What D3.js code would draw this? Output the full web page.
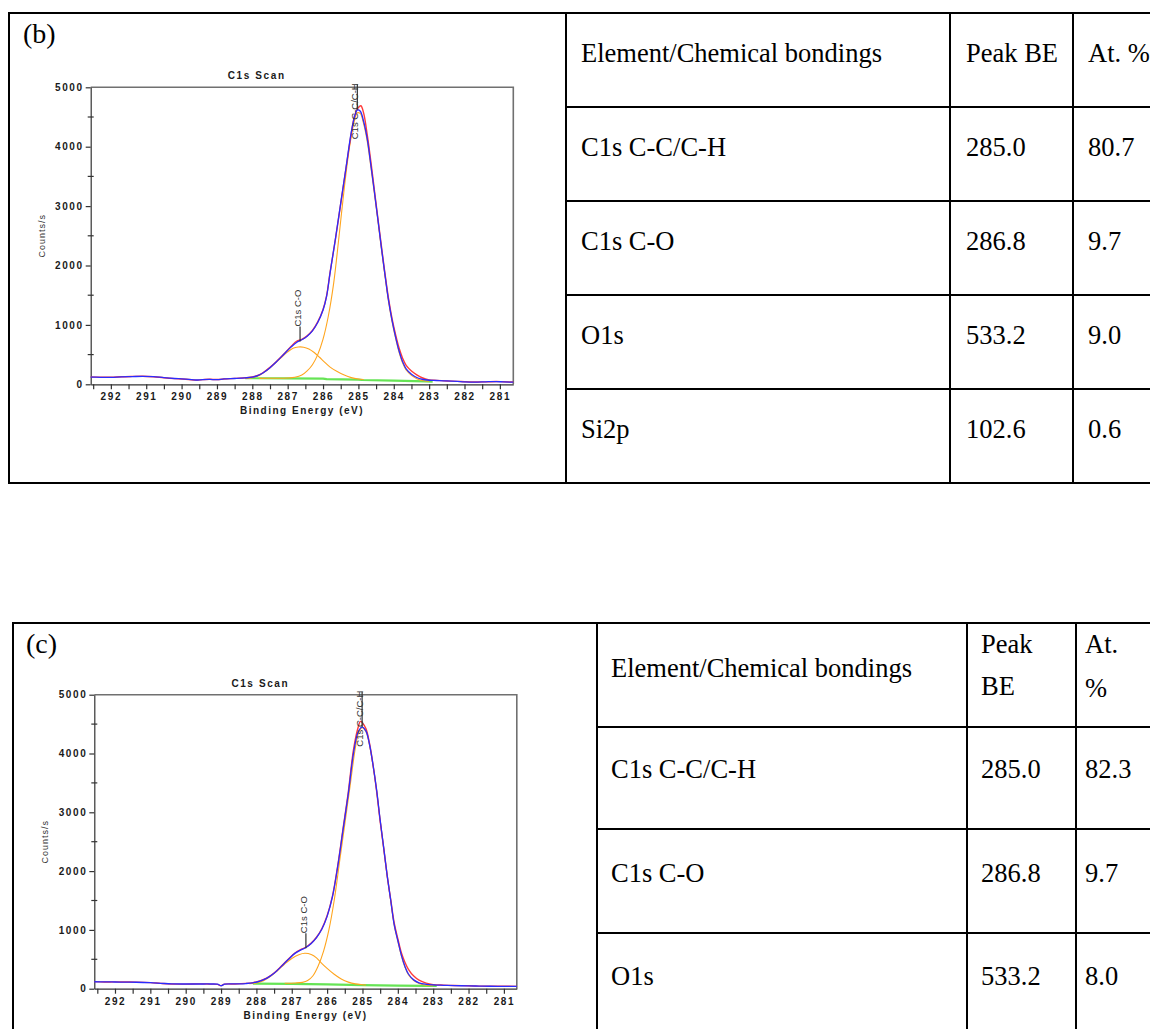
<!DOCTYPE html>
<html>
<head>
<meta charset="utf-8">
<script src="https://cdn.jsdelivr.net/npm/d3@7"></script>
<style>
  body { margin: 0; background: #fff; }
  svg { display: block; }
</style>
</head>
<body>
<svg id="fig" width="1150" height="1029"></svg>
<script>
// ---------- axis ticks ----------
const beTicks = [292, 291, 290, 289, 288, 287, 286, 285, 284, 283, 282, 281];
const beMinorTicks = [292.5, 291.5, 290.5, 289.5, 288.5, 287.5, 286.5, 285.5, 284.5, 283.5, 282.5, 281.5];
const countTicks = [0, 1000, 2000, 3000, 4000, 5000];
const countMinorTicks = [500, 1500, 2500, 3500, 4500];

// ---------- sample (b): C1s scan, [binding energy eV, counts/s] ----------
const bEnvelope = [[292.57,122],[292.3,118],[292.0,116],[291.7,126],[291.4,130],[291.1,134],[290.8,130],[290.5,112],[290.2,98],[290.0,92],[289.8,84],[289.6,72],[289.4,80],[289.2,82],[289.0,78],[288.8,90],[288.5,98],[288.2,108],[288.0,120],[287.85,145],[287.7,190],[287.5,280],[287.3,390],[287.1,510],[286.9,630],[286.75,705],[286.6,750],[286.45,810],[286.3,900],[286.15,1040],[286.0,1250],[285.9,1480],[285.8,1880],[285.65,2450],[285.5,3050],[285.35,3650],[285.2,4250],[285.1,4520],[285.03,4620],[284.95,4600],[284.85,4420],[284.75,4130],[284.65,3700],[284.55,3250],[284.45,2780],[284.35,2300],[284.25,1850],[284.15,1420],[284.05,1080],[283.95,800],[283.85,560],[283.75,380],[283.65,260],[283.5,170],[283.35,115],[283.2,85],[283.0,68],[282.8,64],[282.5,58],[282.2,48],[282.0,40],[281.7,36],[281.4,42],[281.1,46],[280.9,40],[280.62,36]];
const bData = [[292.57,125],[292.3,120],[292.0,118],[291.7,128],[291.4,133],[291.1,136],[290.8,128],[290.5,110],[290.2,96],[290.0,90],[289.8,82],[289.6,70],[289.4,78],[289.2,84],[289.0,80],[288.8,88],[288.5,100],[288.2,110],[288.0,122],[287.85,148],[287.7,195],[287.5,285],[287.3,395],[287.1,515],[286.9,640],[286.75,725],[286.6,755],[286.45,815],[286.3,905],[286.15,1050],[286.0,1260],[285.9,1490],[285.8,1890],[285.65,2440],[285.5,3040],[285.35,3640],[285.2,4230],[285.1,4540],[285.0,4660],[284.93,4690],[284.85,4560],[284.75,4200],[284.65,3760],[284.55,3280],[284.45,2800],[284.35,2330],[284.25,1870],[284.15,1450],[284.05,1110],[283.95,840],[283.85,610],[283.75,440],[283.65,320],[283.5,225],[283.35,160],[283.2,110],[283.0,75],[282.8,66],[282.5,56],[282.2,50],[282.0,44],[281.7,38],[281.4,40],[281.1,48],[280.9,42],[280.62,38]];
const bPeakCO = [[288.2,100],[288.0,112],[287.8,150],[287.6,230],[287.4,330],[287.2,440],[287.0,545],[286.85,605],[286.7,628],[286.55,625],[286.4,595],[286.25,535],[286.1,455],[285.95,370],[285.8,290],[285.6,215],[285.4,155],[285.2,112],[285.0,88],[284.85,80]];
const bPeakCC = [[287.8,100],[287.4,102],[287.0,106],[286.8,118],[286.6,155],[286.45,225],[286.3,330],[286.15,500],[286.0,760],[285.85,1150],[285.7,1700],[285.55,2480],[285.4,3300],[285.25,4000],[285.12,4420],[285.03,4570],[284.95,4560],[284.85,4380],[284.75,4090],[284.65,3670],[284.55,3220],[284.45,2760],[284.35,2280],[284.25,1830],[284.15,1400],[284.05,1060],[283.95,780],[283.85,540],[283.75,360],[283.65,240],[283.5,150],[283.35,95],[283.2,65],[283.0,52]];
const bBackground = [[288.2,102],[287.0,100],[286.0,96],[285.9,86],[285.0,80],[284.9,72],[284.0,62],[283.1,50],[282.9,46]];
const bPeakNames = ["C1s C-C/C-H", "C1s C-O"];
const bPeakBE = [285.03, 286.65];
const bPeakCounts = [4620, 720];

// ---------- sample (c): C1s scan ----------
const cEnvelope = [[292.585,118],[292.3,116],[292.0,114],[291.7,112],[291.4,110],[291.0,102],[290.7,92],[290.4,82],[290.0,80],[289.6,80],[289.3,80],[289.1,76],[289.0,50],[288.9,76],[288.6,82],[288.3,88],[288.1,100],[287.9,130],[287.7,180],[287.5,262],[287.3,375],[287.1,495],[286.9,605],[286.75,655],[286.6,700],[286.45,770],[286.3,870],[286.15,1010],[286.0,1230],[285.85,1560],[285.7,2080],[285.55,2700],[285.4,3320],[285.25,4020],[285.12,4370],[285.01,4450],[284.9,4380],[284.8,4150],[284.7,3800],[284.6,3380],[284.5,2870],[284.4,2400],[284.3,1920],[284.2,1500],[284.1,1080],[284.0,820],[283.9,570],[283.8,380],[283.7,250],[283.55,150],[283.4,100],[283.2,75],[283.0,64],[282.7,58],[282.4,52],[282.0,48],[281.7,45],[281.4,42],[281.0,40],[280.635,38]];
const cData = [[292.585,120],[292.3,114],[292.0,116],[291.7,113],[291.4,112],[291.0,104],[290.7,90],[290.4,80],[290.0,78],[289.6,82],[289.3,78],[289.1,74],[289.0,52],[288.9,78],[288.6,80],[288.3,90],[288.1,104],[287.9,134],[287.7,186],[287.5,268],[287.3,380],[287.1,500],[286.9,612],[286.75,665],[286.6,705],[286.45,775],[286.3,875],[286.15,1020],[286.0,1240],[285.85,1570],[285.7,2090],[285.55,2720],[285.4,3350],[285.25,4080],[285.12,4450],[285.06,4545],[285.0,4520],[284.9,4420],[284.8,4170],[284.7,3800],[284.6,3360],[284.5,2850],[284.4,2390],[284.3,1920],[284.2,1510],[284.1,1110],[284.0,850],[283.9,610],[283.8,450],[283.7,330],[283.55,215],[283.4,145],[283.2,95],[283.0,70],[282.7,60],[282.4,54],[282.0,50],[281.7,44],[281.4,42],[281.0,42],[280.635,40]];
const cPeakCO = [[288.2,85],[288.0,98],[287.8,135],[287.6,210],[287.4,310],[287.2,420],[287.0,515],[286.8,578],[286.63,602],[286.45,582],[286.3,525],[286.16,435],[286.0,345],[285.8,245],[285.6,165],[285.4,112],[285.2,82],[285.0,68],[284.9,62]];
const cPeakCC = [[287.2,92],[286.9,97],[286.7,108],[286.55,138],[286.4,220],[286.25,390],[286.1,640],[285.95,1000],[285.8,1500],[285.65,2150],[285.5,2800],[285.35,3450],[285.2,4100],[285.1,4370],[285.01,4440],[284.9,4370],[284.8,4140],[284.7,3790],[284.6,3370],[284.5,2860],[284.4,2390],[284.3,1910],[284.2,1490],[284.1,1070],[284.0,810],[283.9,560],[283.8,370],[283.7,240],[283.55,140],[283.4,90],[283.2,60],[283.0,50]];
const cBackground = [[288.1,85],[287.0,82],[286.0,72],[285.0,60],[284.0,52],[283.2,48],[282.9,47]];
const cPeakNames = ["C1s C-C/C-H", "C1s C-O"];
const cPeakBE = [285.01, 286.6];
const cPeakCounts = [4450, 690];

// ---------- quantification tables ----------
const tableHeader = ["Element/Chemical bondings", "Peak BE", "At. %"];
const bElements = ["C1s C-C/C-H", "C1s C-O", "O1s", "Si2p"];
const bPeakBEText = ["285.0", "286.8", "533.2", "102.6"];
const bAtomicPct = ["80.7", "9.7", "9.0", "0.6"];
const cElements = ["C1s C-C/C-H", "C1s C-O", "O1s"];
const cPeakBEText = ["285.0", "286.8", "533.2"];
const cAtomicPct = ["82.3", "9.7", "8.0"];

// ---------- drawing ----------
const svg = d3.select("#fig");
const serif = "'Liberation Serif', 'Times New Roman', serif";
const sans = "'Liberation Sans', Arial, sans-serif";

function drawSpectrum(p) {
  const x = d3.scaleLinear().domain(p.beDomain).range([p.left, p.right]);
  const y = d3.scaleLinear().domain([0, 5000]).range([p.bottom, p.top]);
  const g = svg.append("g");

  // title
  g.append("text").attr("x", p.left + 166).attr("y", p.top - 8)
    .attr("text-anchor", "middle").attr("font-family", sans).attr("font-size", 10)
    .attr("font-weight", "bold").attr("letter-spacing", 1.6).attr("fill", "#1a1a1a").text("C1s Scan");

  // grey frame on top and right
  g.append("path").attr("d", `M${p.left},${p.top}H${p.right}V${p.bottom}`)
    .attr("fill", "none").attr("stroke", "#707070").attr("stroke-width", 1.6);

  // bottom axis
  const xa = g.append("g").attr("transform", `translate(0,${p.bottom})`)
    .call(d3.axisBottom(x).tickValues(beTicks.concat(beMinorTicks)).tickSize(5).tickSizeOuter(0).tickPadding(4)
      .tickFormat(d => Number.isInteger(d) ? d3.format("d")(d) : ""));
  // left axis
  const ya = g.append("g").attr("transform", `translate(${p.left},0)`)
    .call(d3.axisLeft(y).tickValues(countTicks).tickSize(5).tickSizeOuter(0).tickPadding(2)
      .tickFormat(d3.format("d")));
  [xa, ya].forEach(a => {
    a.selectAll("path.domain").attr("stroke", "#333").attr("stroke-width", 1.2);
    a.selectAll(".tick line").attr("stroke", "#333").attr("stroke-width", 1.2);
    a.selectAll(".tick text").attr("font-family", sans).attr("font-size", 10)
      .attr("font-weight", "bold").attr("letter-spacing", 1.6).attr("fill", "#1a1a1a");
  });
  // minor count ticks cross the axis
  g.append("g").selectAll("line").data(countMinorTicks).join("line")
    .attr("x1", p.left - 3).attr("x2", p.left + 3)
    .attr("y1", d => y(d)).attr("y2", d => y(d))
    .attr("stroke", "#333").attr("stroke-width", 1.2);

  // axis titles
  g.append("text").attr("x", (p.left + p.right) / 2).attr("y", p.bottom + 30)
    .attr("text-anchor", "middle").attr("font-family", sans).attr("font-size", 10)
    .attr("font-weight", "bold").attr("letter-spacing", 1.5).attr("fill", "#1a1a1a").text("Binding Energy (eV)");
  g.append("text")
    .attr("transform", `translate(${p.left - 46},${(p.top + p.bottom) / 2}) rotate(-90)`)
    .attr("text-anchor", "middle").attr("font-family", sans).attr("font-size", 9)
    .attr("letter-spacing", 1).attr("fill", "#333").text("Counts/s");

  // curves
  const line = d3.line().x(d => x(d[0])).y(d => y(d[1])).curve(d3.curveCatmullRom.alpha(0.5));
  const curves = [
    { data: p.background, color: "#66e455", width: 2.2, linear: true },
    { data: p.peakCO, color: "#ffa51e", width: 1.1 },
    { data: p.peakCC, color: "#ffa51e", width: 1.1 },
    { data: p.data, color: "#ff3b3b", width: 1.4 },
    { data: p.envelope, color: "#2b2bff", width: 1.3 }
  ];
  curves.forEach(c => {
    const gen = c.linear ? d3.line().x(d => x(d[0])).y(d => y(d[1])) : line;
    g.append("path").attr("d", gen(c.data)).attr("fill", "none")
      .attr("stroke", c.color).attr("stroke-width", c.width).attr("stroke-linejoin", "round");
  });

  // peak markers with rotated names
  p.peakNames.forEach((name, i) => {
    const mx = x(p.peakBE[i]);
    const cy = y(p.peakCounts[i]);
    const t = g.append("text").attr("font-family", sans).attr("font-size", 9.5)
      .attr("fill", "#333").text(name);
    const len = t.node().getComputedTextLength();
    let markTop = cy - 15;
    let textStart = markTop;
    if (textStart - len < p.top - 4) {
      textStart = p.top - 4 + len;
      markTop = p.top - 3;
    }
    t.attr("transform", `translate(${mx + 1},${textStart}) rotate(-90)`);
    g.append("line").attr("x1", mx).attr("x2", mx).attr("y1", markTop).attr("y2", cy)
      .attr("stroke", "#333").attr("stroke-width", 1.2);
  });
}

function hline(x1, x2, yv) {
  svg.append("line").attr("x1", x1).attr("x2", x2).attr("y1", yv).attr("y2", yv)
    .attr("stroke", "#000").attr("stroke-width", 2);
}
function vline(xv, y1, y2) {
  svg.append("line").attr("x1", xv).attr("x2", xv).attr("y1", y1).attr("y2", y2)
    .attr("stroke", "#000").attr("stroke-width", 2);
}
function cell(xv, yv, s) {
  return svg.append("text").attr("x", xv).attr("y", yv).attr("font-family", serif)
    .attr("font-size", 26.5).attr("fill", "#000").text(s);
}

// ---- panel (b) ----
hline(8, 1152, 13); hline(8, 1152, 483);
vline(9, 12, 484); vline(566, 13, 483);
[107, 201, 295, 389].forEach(yv => hline(566, 1152, yv));
vline(950, 13, 483); vline(1073, 13, 483);
cell(23, 43, "(b)").attr("font-size", 28);
cell(581, 62, tableHeader[0]); cell(966, 62, tableHeader[1]); cell(1088, 62, tableHeader[2]);
bElements.forEach((e, i) => {
  const yb = 156 + i * 94;
  cell(581, yb, e); cell(966, yb, bPeakBEText[i]); cell(1088, yb, bAtomicPct[i]);
});

drawSpectrum({
  left: 90.7, right: 513.3, top: 87.3, bottom: 384.3, beDomain: [292.57, 280.62],
  envelope: bEnvelope, data: bData, peakCO: bPeakCO, peakCC: bPeakCC, background: bBackground,
  peakNames: bPeakNames, peakBE: bPeakBE, peakCounts: bPeakCounts
});

// ---- panel (c) ----
hline(12, 1152, 623);
vline(13, 622, 1040); vline(597, 623, 1040);
[727, 829, 933].forEach(yv => hline(597, 1152, yv));
vline(967, 623, 1040); vline(1076, 623, 1040);
cell(26, 653, "(c)").attr("font-size", 28);
cell(611, 677, tableHeader[0]);
cell(981, 653, tableHeader[1].split(" ")[0]); cell(981, 695, tableHeader[1].split(" ")[1]);
cell(1085, 653, tableHeader[2].split(" ")[0]); cell(1085, 697, tableHeader[2].split(" ")[1]);
cElements.forEach((e, i) => {
  const yb = 778 + i * 103.5;
  cell(611, yb, e); cell(981, yb, cPeakBEText[i]); cell(1085, yb, cAtomicPct[i]);
});

drawSpectrum({
  left: 94.3, right: 516.8, top: 694.7, bottom: 988.7, beDomain: [292.585, 280.635],
  envelope: cEnvelope, data: cData, peakCO: cPeakCO, peakCC: cPeakCC, background: cBackground,
  peakNames: cPeakNames, peakBE: cPeakBE, peakCounts: cPeakCounts
});
</script>
</body>
</html>
